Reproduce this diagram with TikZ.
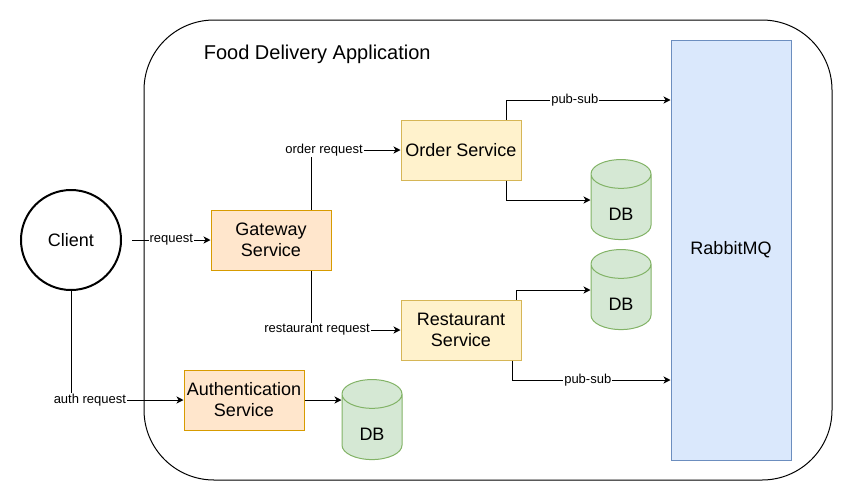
\documentclass[tikz,border=0pt]{standalone}
\usepackage{fontspec}
\setmainfont{Liberation Sans}
\usetikzlibrary{shapes,arrows.meta,positioning}
\usepackage{xcolor}

\definecolor{orangefill}{HTML}{FFE6CC}
\definecolor{orangeline}{HTML}{D79B00}
\definecolor{yellowfill}{HTML}{FFF2CC}
\definecolor{yellowline}{HTML}{D6B656}
\definecolor{greenfill}{HTML}{D5E8D4}
\definecolor{greenline}{HTML}{82B366}
\definecolor{bluefill}{HTML}{DAE8FC}
\definecolor{blueline}{HTML}{6C8EBF}

\begin{document}
\begin{tikzpicture}[x=1pt,y=-1pt,line width=1pt]
    \tikzstyle{service} = [rectangle, draw=orangeline, fill=orangefill,
               minimum width=120pt, minimum height=60pt, inner sep=0pt,
               align=center, font=\fontsize{18}{21}\selectfont]
    \tikzstyle{store} = [service, draw=yellowline, fill=yellowfill]
    \tikzstyle{db} = [cylinder, shape border rotate=90, aspect=1.15,
               draw=greenline, fill=greenfill, minimum width=60pt,
               minimum height=80pt, inner sep=0pt,
               font=\fontsize{18}{21}\selectfont]
    \tikzstyle{line} = [draw, -{Stealth[length=7pt,width=7pt,inset=2pt]}]
    \tikzstyle{edgelabel} = [fill=white, inner sep=1pt,
               font=\fontsize{13}{15}\selectfont]
    \newcommand{\dbtext}{\raisebox{-7pt}[\height][\depth]{DB}}

    \useasboundingbox (0,0) rectangle (852,501);

    % Application frame
    \node [draw, rounded corners=70pt, minimum width=688pt,
      minimum height=460pt] (app) at (488,250) {};
    \node [anchor=west, font=\fontsize{20}{24}\selectfont] (title)
      at (200,54) {Food Delivery Application};

    % Nodes
    \node [draw, circle, line width=2pt, minimum size=100pt,
      font=\fontsize{18}{21}\selectfont] (client) at (71,240) {Client};
    \node [service] (gateway) at (271,240) {Gateway\\Service};
    \node [service] (auth) at (244,400) {Authentication\\Service};
    \node [store] (order) at (461,150) {Order Service};
    \node [store] (restaurant) at (461,330) {Restaurant\\Service};
    \node [db] (orderdb) at (621,207) {\dbtext};
    \node [db] (restdb) at (621,297) {\dbtext};
    \node [db] (authdb) at (372,427) {\dbtext};
    \node [rectangle, draw=blueline, fill=bluefill, minimum width=120pt,
      minimum height=420pt, font=\fontsize{18}{21}\selectfont]
      (mq) at (731,250) {RabbitMQ};

    % Requests from the client
    \coordinate (reqstart) at ([xshift=10pt]client.east);
    \draw [line] (reqstart) -- (gateway.west)
      node[midway, edgelabel] {request};
    \draw [line] (client.south) |- (auth.west)
      node[pos=0.584, edgelabel] {auth request};

    % Gateway routing
    \draw [line] ([xshift=40pt]gateway.north) |- (order.west)
      node[pos=0.573, edgelabel] {order request};
    \draw [line] ([xshift=40pt]gateway.south) |- (restaurant.west)
      node[pos=0.534, edgelabel] {restaurant request};

    % Services to storage and broker
    \draw [line] ([xshift=45pt]order.north) |- ([yshift=150pt]mq.west)
      node[pos=0.709, edgelabel] {pub-sub};
    \draw [line] ([xshift=45pt]order.south) |- ([yshift=7pt]orderdb.west);
    \draw [line] ([xshift=55pt]restaurant.north) |- ([yshift=7pt]restdb.west);
    \draw [line] ([xshift=51pt]restaurant.south) |- ([yshift=-130pt]mq.west)
      node[pos=0.739, edgelabel] {pub-sub};
    \draw [line] (auth.east) -- (auth.east -| authdb.west);

\end{tikzpicture}
\end{document}
